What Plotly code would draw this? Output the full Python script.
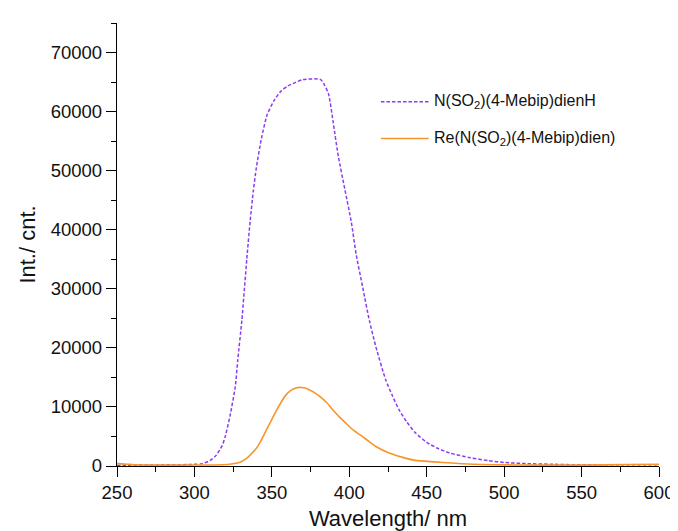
import plotly.graph_objects as go

# ---- data ----
wl_ligand = [250, 260, 270, 280, 290, 300, 305, 310, 314, 318, 320, 323, 326.4, 328, 330.6,
             333.8, 336, 338, 340, 343.3, 347, 351.7, 356, 360, 365, 369.6, 381.3, 384,
             386.6, 389.7, 392.9, 397.1, 401.3, 404.5, 408.7, 413, 417.2, 423.5, 428, 432,
             437, 442.5, 450, 457, 465, 478, 490, 500, 515, 530, 550, 575, 600]
int_ligand = [100, 150, 150, 200, 220, 280, 400, 900, 1800, 3500, 5100, 8500, 13500, 18000, 24600,
              35000, 41500, 46500, 50500, 55500, 59500, 62000, 63500, 64300, 64900, 65400, 65450, 64500,
              63000, 58000, 52450, 46900, 41300, 35750, 30200, 24600, 20160, 14600, 11800, 9570,
              7500, 5680, 4000, 3000, 2200, 1400, 900, 600, 400, 300, 200, 200, 200]

wl_complex = [250, 255, 262, 270, 290, 310, 318, 324, 328.5, 332, 335, 340, 343, 346.5, 350,
              353, 356, 359, 362.3, 366, 369, 372, 377, 381.3, 385.5, 390, 394, 398, 402.4,
              410, 417.2, 425.7, 434, 442.5, 455, 466, 480, 493, 520, 550, 580, 600]
int_complex = [400, 350, 200, 150, 150, 180, 220, 350, 550, 1000, 1600, 3000, 4300, 6100, 7900,
               9400, 10800, 12000, 12800, 13250, 13300, 13150, 12500, 11700, 10700, 9300, 8200, 7200, 6100,
               4700, 3300, 2200, 1500, 950, 700, 500, 300, 220, 150, 150, 250, 300]

series_names = ["N(SO<sub>2</sub>)(4-Mebip)dienH", "Re(N(SO<sub>2</sub>)(4-Mebip)dien)"]
x_ticks = [250, 300, 350, 400, 450, 500, 550, 600]
y_ticks = [0, 10000, 20000, 30000, 40000, 50000, 60000, 70000]
y_tick_labels = [str(v) for v in y_ticks]
x_tick_labels = [str(v) for v in x_ticks]

PURPLE = "#8b3cf0"
ORANGE = "#f7952a"
FONT = "Liberation Sans, Arial, sans-serif"

fig = go.Figure()
fig.add_trace(go.Scatter(x=wl_ligand, y=int_ligand, mode="lines", name=series_names[0],
                         line=dict(color=PURPLE, width=1.5, dash="3.5px,2px", shape="spline", smoothing=0.6)))
fig.add_trace(go.Scatter(x=wl_complex, y=int_complex, mode="lines", name=series_names[1],
                         line=dict(color=ORANGE, width=1.6, shape="spline", smoothing=0.6)))

# manual legend (sample lines + labels)
legend_rows = [(0.822, PURPLE, "3.5px,2px"), (0.739, ORANGE, "solid")]
for (yy, col, dsh), nm in zip(legend_rows, series_names):
    fig.add_shape(type="line", xref="paper", yref="paper", x0=0.487, x1=0.575, y0=yy, y1=yy,
                  line=dict(color=col, width=1.5, dash=dsh))
    fig.add_annotation(xref="paper", yref="paper", x=0.582, y=yy, text=nm, showarrow=False,
                       xanchor="left", yanchor="middle", font=dict(family=FONT, size=16, color="#111"))

axis_common = dict(showline=True, linecolor="black", linewidth=1.3, ticks="outside", ticklen=10,
                   tickwidth=1.3, tickcolor="black", showgrid=False, zeroline=False, mirror=False,
                   tickfont=dict(family=FONT, size=18.5, color="#111"),
                   minor=dict(ticks="outside", ticklen=5, tickwidth=1.3, tickcolor="black"))

fig.update_xaxes(range=[250, 600], tickvals=x_ticks, ticktext=x_tick_labels, minor_dtick=25,
                 title=dict(text="Wavelength/ nm", font=dict(family=FONT, size=22, color="#111"), standoff=8),
                 **axis_common)
fig.update_yaxes(range=[0, 75000], tickvals=y_ticks, ticktext=y_tick_labels, minor_dtick=5000,
                 title=dict(text="Int./ cnt.", font=dict(family=FONT, size=22, color="#111"), standoff=8),
                 **axis_common)

fig.update_layout(width=678, height=531, margin=dict(l=109, r=16, t=15, b=67, pad=0),
                  plot_bgcolor="white", paper_bgcolor="white", showlegend=False,
                  font=dict(family=FONT))

fig.write_html("out.html")
